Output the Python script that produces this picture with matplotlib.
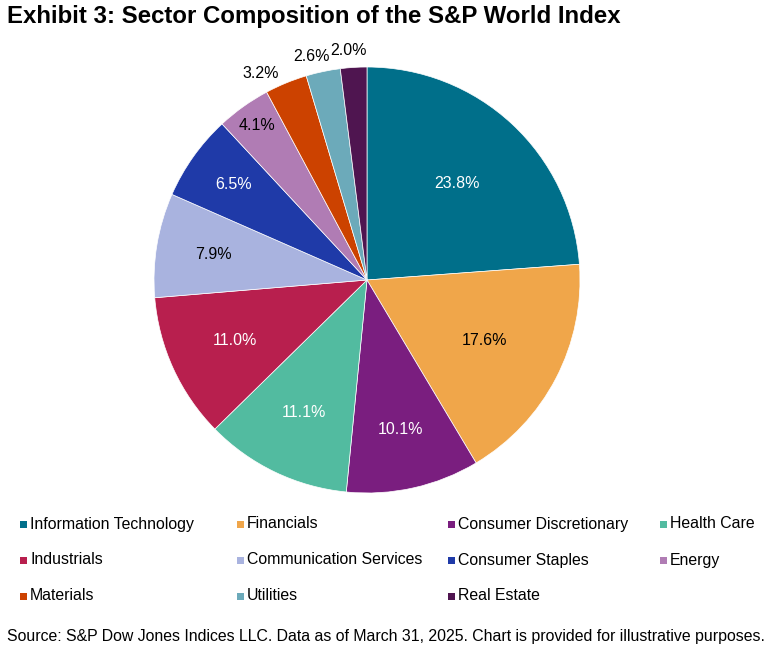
import numpy as np
import matplotlib.pyplot as plt
from matplotlib.patches import Rectangle

plt.rcParams['font.family'] = ['Liberation Sans', 'DejaVu Sans']

sectors = ['Information Technology', 'Financials', 'Consumer Discretionary', 'Health Care',
           'Industrials', 'Communication Services', 'Consumer Staples', 'Energy',
           'Materials', 'Utilities', 'Real Estate']
weights = [23.8, 17.6, 10.1, 11.1, 11.0, 7.9, 6.5, 4.1, 3.2, 2.6, 2.0]
colors = ['#006F8A', '#F0A64A', '#7A1E7F', '#52BBA0', '#B81F4E', '#A9B3DF',
          '#1F3AA8', '#B07CB4', '#CC4200', '#6CAABA', '#4F1550']
label_colors = ['white', 'black', 'white', 'white', 'white', 'black',
                'white', 'black', 'black', 'black', 'black']
# label placement (radius fraction, angle shift in degrees)
label_r = [0.62, 0.62, 0.72, 0.69, 0.68, 0.73, 0.77, 0.89, 1.09, 1.08, 1.08]
label_shift = [0, 0, 0, 0, 0, 0, 0, 0, 5, 2, 1]

W, H = 775, 651
fig = plt.figure(figsize=(W / 100, H / 100), dpi=100)

cx, cy, r = 367, 280, 213
ax = fig.add_axes([(cx - r) / W, (H - cy - r) / H, 2 * r / W, 2 * r / H])
wedges, _ = ax.pie(weights, colors=colors, startangle=90, counterclock=False,
                   wedgeprops=dict(edgecolor='white', linewidth=0.5))
for w, val, lc, lr, sh in zip(wedges, weights, label_colors, label_r, label_shift):
    ang = np.deg2rad((w.theta1 + w.theta2) / 2 + sh)
    ax.text(lr * np.cos(ang), lr * np.sin(ang), f'{val:.1f}%', color=lc,
            ha='center', va='center', fontsize=11.5)
ax.set_xlim(-1, 1)
ax.set_ylim(-1, 1)
ax.set_aspect('equal')
ax.axis('off')

fig.text(7 / W, 1 - 17 / H, 'Exhibit 3: Sector Composition of the S&P World Index',
         fontsize=17.3, fontweight='bold', ha='left', va='center')

# legend drawn manually
col_x = [20, 237, 448, 660]
row_y = [524, 560, 596]
sq = 7
for i, (name, c) in enumerate(zip(sectors, colors)):
    x = col_x[i % 4]
    y = row_y[i // 4]
    fig.patches.append(Rectangle((x / W, (H - y - sq / 2) / H), sq / W, sq / H,
                                 facecolor=c, transform=fig.transFigure))
    fig.text((x + sq + 3) / W, 1 - y / H, name, fontsize=11.4, ha='left', va='center')

fig.text(7 / W, 1 - 637 / H,
         'Source: S&P Dow Jones Indices LLC. Data as of March 31, 2025. Chart is provided for illustrative purposes.',
         fontsize=11.4, ha='left', va='center')

fig.savefig('out.png', dpi=100)
